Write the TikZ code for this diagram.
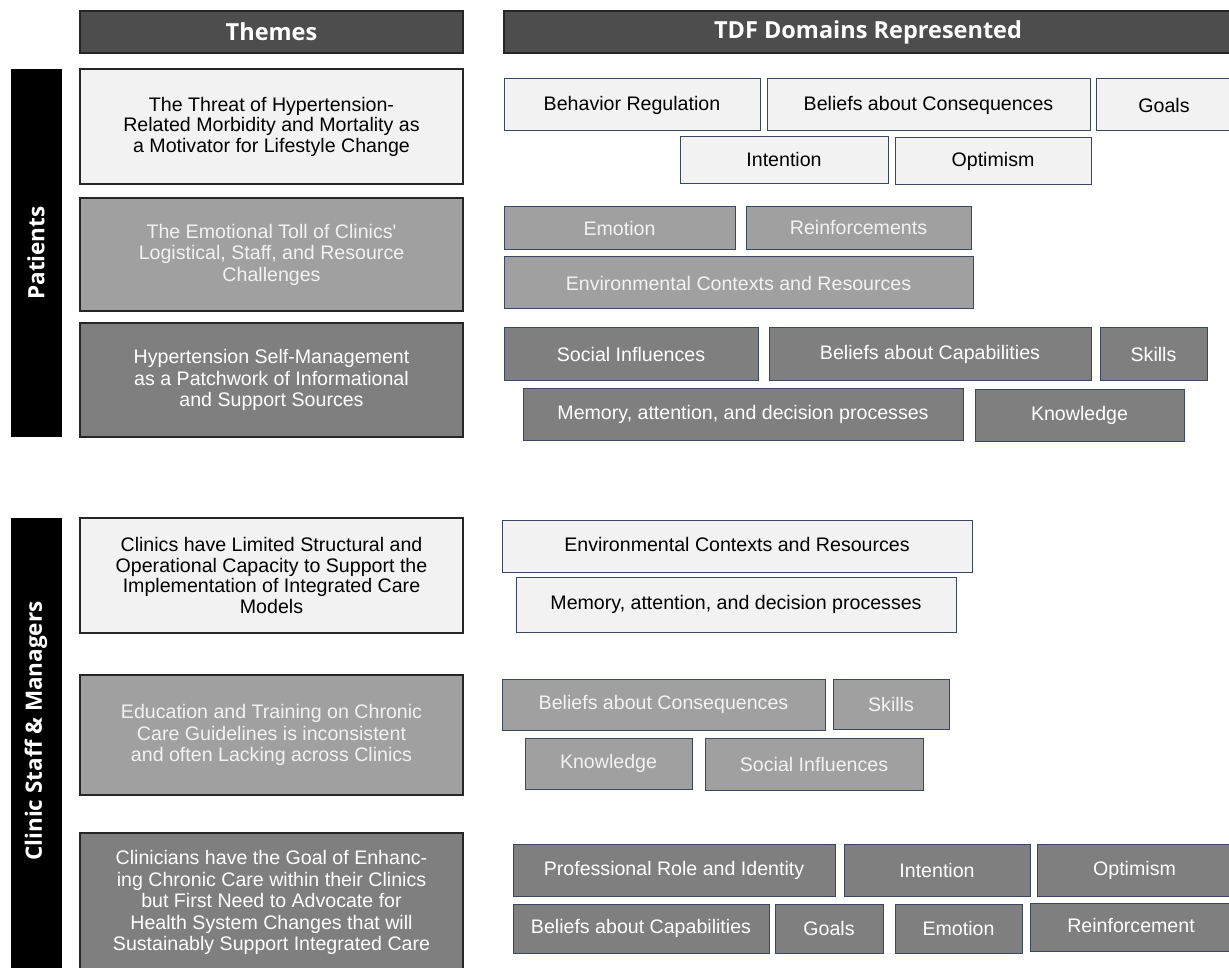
\documentclass[tikz,border=0pt]{standalone}
\usepackage{fontspec}
\setmainfont{Liberation Sans}
\newfontfamily\thfont{Liberation Sans}
\newfontfamily\hdfont{Open Sans}
\definecolor{hdrgray}{HTML}{4D4D4D}
\definecolor{lightfill}{HTML}{F2F2F2}
\definecolor{midfill}{HTML}{A0A0A0}
\definecolor{darkfill}{HTML}{7F7F7F}
\definecolor{dbord}{HTML}{3B4663}
\definecolor{tbord}{HTML}{262626}
\newcommand\bx[7]{\node[#6, minimum width={(#4-#2)*1pt}, minimum height={(#5-#3)*1pt}] (#1) at ({(#2+#4)/2},{(#3+#5)/2}) {#7};}
\newcommand\up[1]{\raisebox{3pt}{#1}}
\tikzset{
  base/.style={inner sep=0pt, outer sep=0pt, align=center},
  hdr/.style={base, fill=hdrgray, draw=tbord, line width=1.2pt, text=white, font=\hdfont\bfseries\fontsize{23.5}{26}\selectfont},
  bar/.style={base, fill=black, text=white, rotate=90, font=\hdfont\bfseries\fontsize{22.5}{26}\selectfont},
  thL/.style={base, fill=lightfill, draw=tbord, line width=1.1pt, text=black, font=\thfont\fontsize{19.6}{20.5}\selectfont},
  thM/.style={base, fill=midfill, draw=tbord, line width=1.1pt, text=lightfill, font=\thfont\fontsize{19.6}{21.5}\selectfont},
  thD/.style={base, fill=darkfill, draw=tbord, line width=1.1pt, text=white, font=\thfont\fontsize{19.6}{21.5}\selectfont},
  dL/.style={base, fill=lightfill, draw=dbord, line width=1pt, text=black, font=\thfont\fontsize{19.6}{22}\selectfont},
  dM/.style={base, fill=midfill, draw=dbord, line width=1pt, text=lightfill, font=\thfont\fontsize{19.6}{22}\selectfont},
  dD/.style={base, fill=darkfill, draw=dbord, line width=1pt, text=white, font=\thfont\fontsize{19.6}{22}\selectfont},
}
\begin{document}
\begin{tikzpicture}[x=1pt,y=-1pt]
\useasboundingbox (0,0) rectangle (1229,968);
% headers
\bx{hthemes}{80}{11}{463}{53}{hdr}{Themes}
\bx{htdf}{504}{11}{1232}{53}{hdr}{TDF Domains Represented}
% side bars
\node[bar, minimum width=368pt, minimum height=51pt] (bpat) at (36,253) {Patients};
\node[bar, minimum width=456pt, minimum height=51pt] (bcli) at (36,746) {\hspace*{30pt}Clinic Staff \& Managers};
% themes
\bx{t1}{80}{69}{463}{184}{thL}{The Threat of Hypertension-\\Related Morbidity and Mortality as\\a Motivator for Lifestyle Change}
\bx{t2}{80}{198}{463}{311}{thM}{The Emotional Toll of Clinics'\\Logistical, Staff, and Resource\\Challenges}
\bx{t3}{80}{323}{463}{437}{thD}{Hypertension Self-Management\\as a Patchwork of Informational\\and Support Sources}
\bx{t4}{80}{518}{463}{633}{thL}{Clinics have Limited Structural and\\Operational Capacity to Support the\\Implementation of Integrated Care\\Models}
\bx{t5}{80}{675}{463}{795}{thM}{Education and Training on Chronic\\Care Guidelines is inconsistent\\and often Lacking across Clinics}
\bx{t6}{80}{833}{463}{972}{thD}{Clinicians have the Goal of Enhanc-\\ing Chronic Care within their Clinics\\but First Need to Advocate for\\Health System Changes that will\\Sustainably Support Integrated Care}
% patients domains
\bx{p1a}{504}{79}{760}{131}{dL}{\up{Behavior Regulation}}
\bx{p1b}{767}{79}{1090}{131}{dL}{Beliefs about Consequences}
\bx{p1c}{1096}{79}{1232}{131}{dL}{Goals}
\bx{p1d}{680}{137}{888}{184}{dL}{\up{Intention}}
\bx{p1e}{895}{138}{1091}{185}{dL}{Optimism}
\bx{p2a}{504}{207}{735}{250}{dM}{Emotion}
\bx{p2b}{746}{207}{971}{250}{dM}{\up{Reinforcements}}
\bx{p2c}{504}{257}{973}{309}{dM}{Environmental Contexts and Resources}
\bx{p3a}{504}{328}{758}{380}{dD}{Social Influences}
\bx{p3b}{769}{328}{1091}{380}{dD}{Beliefs about Capabilities}
\bx{p3c}{1100}{328}{1207}{380}{dD}{Skills}
\bx{p3d}{523}{388}{963}{440}{dD}{\up{Memory, attention, and decision processes}}
\bx{p3e}{975}{389}{1184}{441}{dD}{Knowledge}
% clinic domains
\bx{c1a}{502}{520}{972}{572}{dL}{\up{Environmental Contexts and Resources}}
\bx{c1b}{516}{577}{956}{632}{dL}{Memory, attention, and decision processes}
\bx{c2a}{502}{679}{825}{730}{dM}{\up{Beliefs about Consequences}}
\bx{c2b}{833}{679}{949}{729}{dM}{Skills}
\bx{c2c}{525}{738}{692}{789}{dM}{\up{Knowledge}}
\bx{c2d}{705}{738}{923}{790}{dM}{Social Influences}
\bx{c3a}{513}{844}{835}{896}{dD}{\up{Professional Role and Identity}}
\bx{c3b}{844}{844}{1030}{896}{dD}{Intention}
\bx{c3c}{1037}{844}{1232}{896}{dD}{\up{Optimism}}
\bx{c3d}{513}{904}{769}{953}{dD}{Beliefs about Capabilities}
\bx{c3e}{775}{904}{883}{953}{dD}{Goals}
\bx{c3f}{895}{904}{1022}{953}{dD}{Emotion}
\bx{c3g}{1030}{903}{1232}{951}{dD}{\up{Reinforcement}}
\end{tikzpicture}
\end{document}
